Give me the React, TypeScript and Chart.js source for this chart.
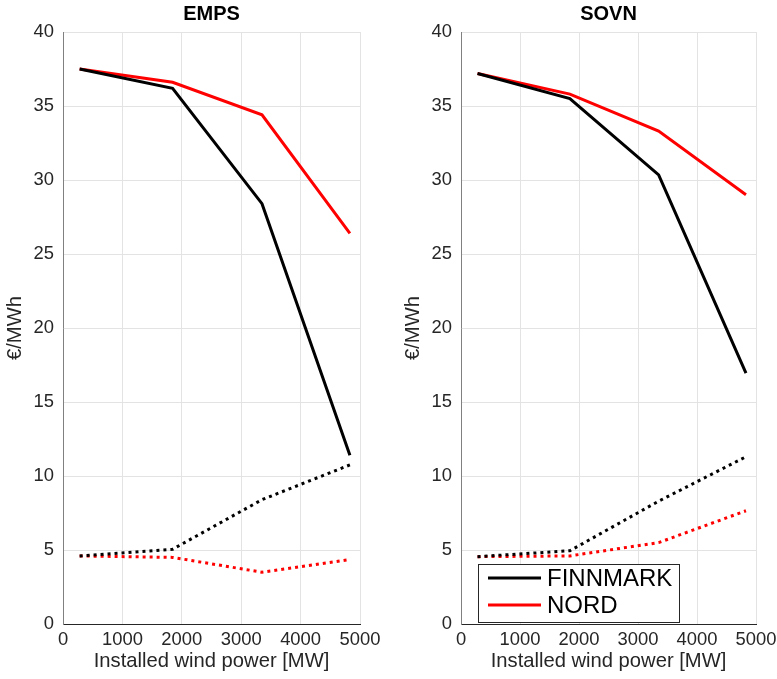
import React, { useEffect, useRef } from "react";
import { Chart, registerables } from "chart.js";

Chart.register(...registerables);

// ---- data ----
const windMW = [280, 1845, 3350, 4830];

const empsFinnmark = [37.5, 36.2, 28.4, 11.4];
const empsNord = [37.5, 36.6, 34.4, 26.4];
const empsFinnmarkDotted = [4.6, 5.05, 8.4, 10.75];
const empsNordDotted = [4.6, 4.5, 3.5, 4.35];

const sovnFinnmark = [37.2, 35.5, 30.35, 16.95];
const sovnNord = [37.2, 35.8, 33.3, 29.0];
const sovnFinnmarkDotted = [4.55, 4.95, 8.3, 11.3];
const sovnNordDotted = [4.55, 4.6, 5.5, 7.65];

const seriesNames = ["FINNMARK", "NORD"];
const seriesColors = ["#000000", "#ff0000"];
const panelTitles = ["EMPS", "SOVN"];
const xAxisTitle = "Installed wind power [MW]";
const yAxisTitle = "€/MWh";

const FONT = '"Liberation Sans", Arial, Helvetica, sans-serif';

const toPoints = (ys: number[]) => windMW.map((x, i) => ({ x, y: ys[i] }));

const boxLegendPlugin = {
  id: "boxLegend",
  afterDraw(chart: any, _args: any, opts: any) {
    if (!opts || !opts.display) return;
    const ca = chart.chartArea;
    const ctx = chart.ctx;
    const items = chart.data.datasets.filter((d: any) => d.inLegend);
    const bx = ca.left + 17;
    const by = ca.bottom - 60;
    const bw = 201;
    const bh = 58;
    ctx.save();
    ctx.fillStyle = "#ffffff";
    ctx.fillRect(bx, by, bw, bh);
    ctx.strokeStyle = "#262626";
    ctx.lineWidth = 1;
    ctx.strokeRect(bx + 0.5, by + 0.5, bw, bh);
    items.forEach((d: any, i: number) => {
      const cy = ca.bottom - 46 + i * 27;
      ctx.strokeStyle = d.borderColor;
      ctx.lineWidth = 3;
      ctx.setLineDash([]);
      ctx.beginPath();
      ctx.moveTo(ca.left + 27, cy);
      ctx.lineTo(ca.left + 80, cy);
      ctx.stroke();
      ctx.fillStyle = "#000000";
      ctx.font = `24px ${FONT}`;
      ctx.textAlign = "left";
      ctx.textBaseline = "middle";
      ctx.fillText(d.label, ca.left + 86, cy + 1);
    });
    ctx.restore();
  },
};

function Panel(props: {
  title: string;
  solid: number[][];
  dotted: number[][];
  showLegend: boolean;
  left: number;
  width: number;
  padRight: number;
}) {
  const ref = useRef<HTMLCanvasElement | null>(null);
  useEffect(() => {
    if (!ref.current) return;
    const datasets: any[] = [];
    props.solid.forEach((ys, i) => {
      datasets.push({
        label: seriesNames[i],
        data: toPoints(ys),
        borderColor: seriesColors[i],
        borderWidth: 3,
        pointRadius: 0,
        fill: false,
        tension: 0,
        inLegend: true,
      });
    });
    props.dotted.forEach((ys, i) => {
      datasets.push({
        label: seriesNames[i],
        data: toPoints(ys),
        borderColor: seriesColors[i],
        borderWidth: 3,
        borderDash: [3, 4],
        pointRadius: 0,
        fill: false,
        tension: 0,
        inLegend: false,
      });
    });
    const chart = new Chart(ref.current, {
      type: "line",
      data: { datasets },
      plugins: [boxLegendPlugin],
      options: {
        animation: false,
        responsive: false,
        devicePixelRatio: 1,
        layout: { padding: { left: 0, right: props.padRight, top: 0, bottom: 0 } },
        plugins: {
          legend: { display: false },
          tooltip: { enabled: false },
          title: {
            display: true,
            text: props.title,
            fullSize: false,
            color: "#000000",
            font: { family: FONT, size: 20, weight: "bold" },
            padding: { top: 2, bottom: 6 },
          },
          boxLegend: { display: props.showLegend },
        } as any,
        scales: {
          x: {
            type: "linear",
            min: 0,
            max: 5000,
            afterFit: (s: any) => {
              s.height = 55;
            },
            ticks: {
              stepSize: 1000,
              color: "#262626",
              font: { family: FONT, size: 18.4 },
              padding: 5,
              maxRotation: 0,
              autoSkip: false,
              callback: (v: any) => String(v),
            },
            grid: { color: "#e3e3e3", lineWidth: 1, drawTicks: false },
            border: { display: true, color: "#262626", width: 1 },
            title: {
              display: true,
              text: xAxisTitle,
              color: "#262626",
              font: { family: FONT, size: 20.2 },
              padding: { top: 0, bottom: 5 },
            },
          },
          y: {
            type: "linear",
            min: 0,
            max: 40,
            afterFit: (s: any) => {
              s.width = 63;
            },
            ticks: {
              stepSize: 5,
              color: "#262626",
              font: { family: FONT, size: 18.4 },
              padding: 9,
              callback: (v: any) => String(v),
            },
            grid: { color: "#e3e3e3", lineWidth: 1, drawTicks: false },
            border: { display: true, color: "#808080", width: 1 },
            title: {
              display: true,
              text: yAxisTitle,
              color: "#262626",
              font: { family: FONT, size: 20.2 },
              padding: { top: 3, bottom: 0 },
            },
          },
        },
      } as any,
    });
    return () => chart.destroy();
  }, []);
  return (
    <canvas
      ref={ref}
      width={props.width}
      height={679}
      style={{ position: "absolute", left: props.left, top: 0, width: props.width, height: 679 }}
    />
  );
}

export default function App() {
  return (
    <div
      style={{
        position: "absolute",
        left: 0,
        top: 0,
        width: 777,
        height: 679,
        overflow: "hidden",
        background: "#ffffff",
      }}
    >
      <Panel
        title={panelTitles[0]}
        solid={[empsFinnmark, empsNord]}
        dotted={[empsFinnmarkDotted, empsNordDotted]}
        showLegend={false}
        left={0}
        width={392}
        padRight={32}
      />
      <Panel
        title={panelTitles[1]}
        solid={[sovnFinnmark, sovnNord]}
        dotted={[sovnFinnmarkDotted, sovnNordDotted]}
        showLegend={true}
        left={398}
        width={390}
        padRight={32}
      />
    </div>
  );
}
